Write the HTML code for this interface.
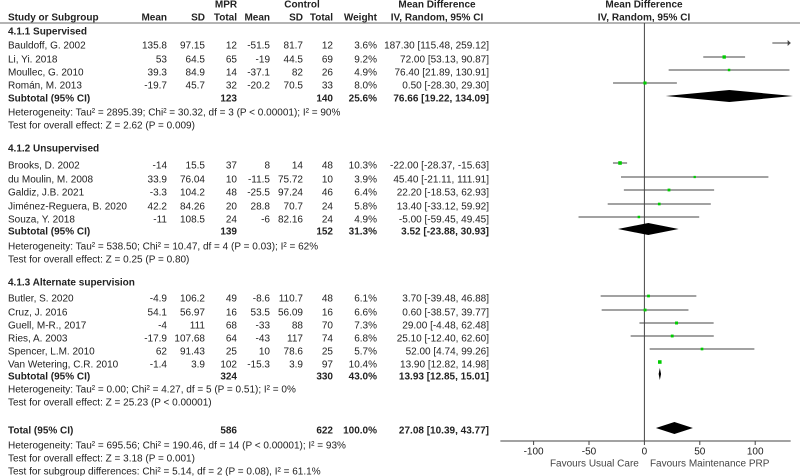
<!DOCTYPE html>
<html><head><meta charset="utf-8"><style>
body{margin:0;background:#fff}
svg{display:block;font-family:"Liberation Sans",Arial,sans-serif;font-size:10px;fill:#222}
.b{font-weight:bold}
</style></head><body>
<svg id="c" width="800" height="476" viewBox="0 0 800 476"></svg>
<script>
const studyNames=["Bauldoff, G. 2002","Li, Yi. 2018","Moullec, G. 2010","Román, M. 2013","Brooks, D. 2002","du Moulin, M. 2008","Galdiz, J.B. 2021","Jiménez-Reguera, B. 2020","Souza, Y. 2018","Butler, S. 2020","Cruz, J. 2016","Guell, M-R., 2017","Ries, A. 2003","Spencer, L.M. 2010","Van Wetering, C.R. 2010"];
const studyY=[43,57,70,83,163,177,190,204,217,296,310,323,336,349,362];
const mprMean=["135.8","53","39.3","-19.7","-14","33.9","-3.3","42.2","-11","-4.9","54.1","-4","-17.9","62","-1.4"];
const mprSD=["97.15","64.5","84.9","45.7","15.5","76.04","104.2","84.26","108.5","106.2","56.97","111","107.68","91.43","3.9"];
const mprN=["12","65","14","32","37","10","48","20","24","49","16","68","64","25","102"];
const ctlMean=["-51.5","-19","-37.1","-20.2","8","-11.5","-25.5","28.8","-6","-8.6","53.5","-33","-43","10","-15.3"];
const ctlSD=["81.7","44.5","82","70.5","14","75.72","97.24","70.7","82.16","110.7","56.09","88","117","78.6","3.9"];
const ctlN=["12","69","26","33","48","10","46","24","24","48","16","70","74","25","97"];
const weights=["3.6%","9.2%","4.9%","8.0%","10.3%","3.9%","6.4%","5.8%","4.9%","6.1%","6.6%","7.3%","6.8%","5.7%","10.4%"];
const md=[187.30,72.00,76.40,0.50,-22.00,45.40,22.20,13.40,-5.00,3.70,0.60,29.00,25.10,52.00,13.90];
const lo=[115.48,53.13,21.89,-28.30,-28.37,-21.11,-18.53,-33.12,-59.45,-39.48,-38.57,-4.48,-12.40,4.74,12.82];
const hi=[259.12,90.87,130.91,29.30,-15.63,111.91,62.93,59.92,49.45,46.88,39.77,62.48,62.60,99.26,14.98];
const subNames=["Subtotal (95% CI)","Subtotal (95% CI)","Subtotal (95% CI)","Total (95% CI)"];
const subY=[96,229,374,428];
const subN1=["123","139","324","586"];
const subN2=["140","152","330","622"];
const subW=["25.6%","31.3%","43.0%","100.0%"];
const subMd=[76.66,3.52,13.93,27.08];
const subLo=[19.22,-23.88,12.85,10.39];
const subHi=[134.09,30.93,15.01,43.77];
const ticks=[-100,-50,0,50,100];
const xMin=-130,xMax=132;
const svg=document.getElementById('c');
const NS='http://www.w3.org/2000/svg';
const X=v=>644.4+v*1.108;
const PL=X(xMin),PR=X(xMax);
const TO=2;
function el(tag,at,txt){const e=document.createElementNS(NS,tag);for(const k in at)e.setAttribute(k,at[k]);if(txt!==undefined)e.textContent=txt;svg.appendChild(e);return e;}
function t(x,y,s,anchor,bold,name){const e=el('text',{x:x,y:y+3.5,'text-anchor':anchor||'start',class:bold?'b':''},s);

return e;}
const f=v=>v.toFixed(2);
// headers
t(226,4,"MPR","middle",1,'mpr-header');t(302,4,"Control","middle",1,'control-header');
t(437,4,"Mean Difference","middle",1,'md-header');t(644,4,"Mean Difference","middle",1,'plot-header');
t(8,17,"Study or Subgroup","start",1,'study-header');
t(167,17,"Mean","end",1);t(205,17,"SD","end",1);t(237,17,"Total","end",1);
t(270,17,"Mean","end",1);t(303,17,"SD","end",1);t(333,17,"Total","end",1);t(377,17,"Weight","end",1);
t(437,17,"IV, Random, 95% CI","middle",1);t(644,17,"IV, Random, 95% CI","middle",1);
let e=el('line',{x1:0,x2:800,y1:23,y2:23,stroke:'#888','stroke-width':1.2});


e=el('line',{x1:X(0),x2:X(0),y1:23,y2:441,stroke:'#444','stroke-width':1});


// group titles
t(8,31,"4.1.1 Supervised","start",1,'group-title');
t(8,148,"4.1.2 Unsupervised","start",1,'group-title');
t(8,282,"4.1.3 Alternate supervision","start",1,'group-title');
// studies
studyNames.forEach((n,i)=>{const y=studyY[i];const ty=y+TO;
t(8,ty,n,'start',0,'study-name');t(167,ty,mprMean[i],'end');t(205,ty,mprSD[i],'end');t(237,ty,mprN[i],'end');
t(270,ty,ctlMean[i],'end');t(303,ty,ctlSD[i],'end');t(333,ty,ctlN[i],'end');t(377,ty,weights[i],'end');
t(489,ty,f(md[i])+" ["+f(lo[i])+", "+f(hi[i])+"]",'end',0,'ci-text');
const x1=Math.max(PL,X(lo[i])),x2=Math.min(PR,X(hi[i]));
if(x2>x1){let l=el('line',{x1:x1,x2:x2,y1:y,y2:y,stroke:'#444','stroke-width':1});

}
if(X(hi[i])>PR){let a=el('path',{d:`M${PR-3},${y-3}L${PR},${y}L${PR-3},${y+3}Z`,fill:'#444'});

}
if(X(md[i])<=PR){const s=1.5+parseFloat(weights[i])*0.2;
let r=el('rect',{x:X(md[i])-s/2,y:y-s/2,width:s,height:s,fill:'#00cc00'});

}
});
// subtotals
subNames.forEach((n,i)=>{const y=subY[i];const ty=y+TO;
t(8,ty,n,'start',1,'subtotal-label');t(237,ty,subN1[i],'end',1);t(333,ty,subN2[i],'end',1);t(377,ty,subW[i],'end',1);
t(489,ty,f(subMd[i])+" ["+f(subLo[i])+", "+f(subHi[i])+"]",'end',1,'subtotal-ci');
const h=6;
let d=el('path',{d:`M${X(subLo[i])},${y}L${X(subMd[i])},${y-h}L${X(subHi[i])},${y}L${X(subMd[i])},${y+h}Z`,fill:'#000'});


});
// stats text
const notes=[[112,"Heterogeneity: Tau² = 2895.39; Chi² = 30.32, df = 3 (P < 0.00001); I² = 90%"],[125,"Test for overall effect: Z = 2.62 (P = 0.009)"],
[246,"Heterogeneity: Tau² = 538.50; Chi² = 10.47, df = 4 (P = 0.03); I² = 62%"],[259,"Test for overall effect: Z = 0.25 (P = 0.80)"],
[389,"Heterogeneity: Tau² = 0.00; Chi² = 4.27, df = 5 (P = 0.51); I² = 0%"],[402,"Test for overall effect: Z = 25.23 (P < 0.00001)"],
[445,"Heterogeneity: Tau² = 695.56; Chi² = 190.46, df = 14 (P < 0.00001); I² = 93%"],[458,"Test for overall effect: Z = 3.18 (P = 0.001)"],
[471,"Test for subgroup differences: Chi² = 5.14, df = 2 (P = 0.08), I² = 61.1%"]];
notes.forEach(n=>t(8,n[0],n[1],'start',0,'stat-note'));
// axis
e=el('line',{x1:PL,x2:PR,y1:441,y2:441,stroke:'#444','stroke-width':1});


ticks.forEach(v=>{let l=el('line',{x1:X(v),x2:X(v),y1:441,y2:445,stroke:'#444'});


t(X(v),451,String(v),'middle',0,'x-tick-label');});
t(X(-5),463,"Favours Usual Care",'end',0,'favours-left').setAttribute('fill','#444');
t(X(5),463,"Favours Maintenance PRP",'start',0,'favours-right').setAttribute('fill','#444');
</script>
</body></html>
